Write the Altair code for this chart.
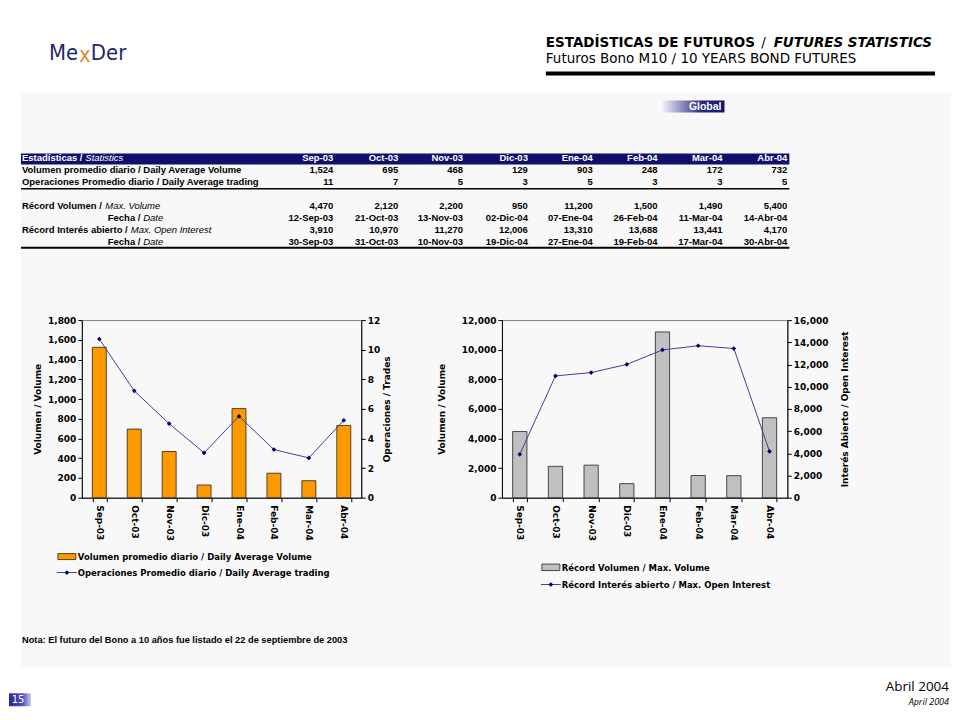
import altair as alt
import pandas as pd

# ---------------- data ----------------
months = ["Sep-03", "Oct-03", "Nov-03", "Dic-03", "Ene-04", "Feb-04", "Mar-04", "Abr-04"]
avg_volume = [1524, 695, 468, 129, 903, 248, 172, 732]
avg_trades = [10.72, 7.22, 5.00, 3.03, 5.50, 3.25, 2.69, 5.23]          # as drawn in chart
avg_trades_table = [11, 7, 5, 3, 5, 3, 3, 5]                           # as printed in table
max_volume = [4470, 2120, 2200, 950, 11200, 1500, 1490, 5400]
max_volume_date = ["12-Sep-03", "21-Oct-03", "13-Nov-03", "02-Dic-04",
                   "07-Ene-04", "26-Feb-04", "11-Mar-04", "14-Abr-04"]
max_oi = [3910, 10970, 11270, 12006, 13310, 13688, 13441, 4170]
max_oi_date = ["30-Sep-03", "31-Oct-03", "10-Nov-03", "19-Dic-04",
               "27-Ene-04", "19-Feb-04", "17-Mar-04", "30-Abr-04"]

vol_ticks = [0, 200, 400, 600, 800, 1000, 1200, 1400, 1600, 1800]
trade_ticks = [0, 2, 4, 6, 8, 10, 12]
maxvol_ticks = [0, 2000, 4000, 6000, 8000, 10000, 12000]
maxoi_ticks = [0, 2000, 4000, 6000, 8000, 10000, 12000, 14000, 16000]

# ---------------- helpers (page px -> chart px) ----------------
OX, OY = 81, 8
def cx(px):
    return px - OX
def cy(py):
    return py - OY

ONE = alt.Data(values=[{"a": 0}])
NAVY = "#10106a"
FONT_V = "DejaVu Sans"
FONT_A = "Liberation Sans"
FONT_C = "DejaVu Sans Condensed, DejaVu Sans"

def T(text, x, y, size, font=FONT_V, weight="normal", style="normal",
      color="black", align="left", baseline="middle"):
    return alt.Chart(ONE).mark_text(
        text=text, font=font, fontSize=size, fontWeight=weight, fontStyle=style,
        color=color, align=align, baseline=baseline
    ).encode(x=alt.value(cx(x)), y=alt.value(cy(y)))

def R(x1, x2, y1, y2, fill, stroke="transparent", sw=0.0):
    return alt.Chart(ONE).mark_rect(fill=fill, stroke=stroke, strokeWidth=sw).encode(
        x=alt.value(cx(x1)), x2=alt.value(cx(x2)), y=alt.value(cy(y1)), y2=alt.value(cy(y2)))

def L(x1, x2, y, color="black", sw=1.0):
    return alt.Chart(ONE).mark_rule(color=color, strokeWidth=sw).encode(
        x=alt.value(cx(x1)), x2=alt.value(cx(x2)), y=alt.value(cy(y)))

def Dm(x, y, color="#000070"):
    return alt.Chart(ONE).mark_point(shape="diamond", filled=True, size=22, color=color, opacity=1).encode(
        x=alt.value(cx(x)), y=alt.value(cy(y)))

ROW_SCALE = alt.Scale(domain=[0, 7], range=[cy(157), cy(241)], zero=False, nice=False)

def RL(text, x, row, weight="bold", style="normal", color="black"):
    return alt.Chart(alt.Data(values=[{"row": row}])).mark_text(
        text=text, font=FONT_A, fontSize=9.5, fontWeight=weight, fontStyle=style,
        color=color, align="left", baseline="middle"
    ).encode(x=alt.value(cx(x)), y=alt.Y("row:Q", scale=ROW_SCALE, axis=None))

X_T = alt.X("month:N", scale=alt.Scale(type="point", domain=months,
                                        range=[cx(333), cx(788)], padding=0), axis=None)

# ---------------- canvas (slide decoration + table + legends) ----------------
layers = []
layers.append(R(8, 952, 8, 706, "white"))
layers.append(R(20, 952, 90, 668, "#f8f8f8"))

# logo
layers.append(T("Me", 48, 58, 22, font=FONT_C, color="#1c2a6b", baseline="alphabetic"))
layers.append(T("x", 84, 60, 22, font=FONT_C, color="#e08a2c", align="center", baseline="alphabetic"))
layers.append(T("Der", 90, 58, 22, font=FONT_C, color="#1c2a6b", baseline="alphabetic"))

# title block
layers.append(T("ESTADÍSTICAS DE FUTUROS", 546, 45, 13.5, weight="bold", baseline="alphabetic"))
layers.append(T("/", 764, 45, 13.5, align="center", baseline="alphabetic"))
layers.append(T("FUTURES STATISTICS", 933, 45, 13.5, weight="bold", style="italic",
                align="right", baseline="alphabetic"))
layers.append(T("Futuros Bono M10 / 10 YEARS BOND FUTURES", 546, 61, 13.5, baseline="alphabetic"))
layers.append(L(546, 936, 72, "black", 4))

# Global badge
layers.append(alt.Chart(ONE).mark_rect(
    fill=alt.Gradient(gradient="linear", x1=0, x2=1, y1=0, y2=0,
                      stops=[alt.GradientStop(color="#ffffff", offset=0),
                             alt.GradientStop(color="#2a2a86", offset=0.65),
                             alt.GradientStop(color="#14146e", offset=1)])
).encode(x=alt.value(cx(660)), x2=alt.value(cx(725)), y=alt.value(cy(99)), y2=alt.value(cy(111))))
layers.append(T("Global", 722, 105.5, 10.5, font=FONT_A, weight="bold", color="white", align="right"))

# table
layers.append(R(20, 790, 152, 163, NAVY))
layers.append(RL("Estadísticas / ", 21, 0, color="white"))
layers.append(RL("Statistics", 84.5, 0, weight="normal", style="italic", color="white"))
layers.append(RL("Volumen promedio diario / Daily Average Volume", 21, 1))
layers.append(RL("Operaciones Promedio diario / Daily Average trading", 21, 2))
layers.append(RL("Récord Volumen / ", 21, 4))
layers.append(RL("Max. Volume", 104.5, 4, weight="normal", style="italic"))
layers.append(RL("Fecha / ", 107, 5))
layers.append(RL("Date", 142.5, 5, weight="normal", style="italic"))
layers.append(RL("Récord Interés abierto / ", 21, 6))
layers.append(RL("Max. Open Interest", 130, 6, weight="normal", style="italic"))
layers.append(RL("Fecha / ", 107, 7))
layers.append(RL("Date", 142.5, 7, weight="normal", style="italic"))

header_cells = [{"month": m, "row": 0} for m in months]
layers.append(alt.Chart(alt.Data(values=header_cells)).mark_text(
    font=FONT_A, fontSize=9.5, fontWeight="bold", color="white", align="right", baseline="middle"
).encode(x=X_T, y=alt.Y("row:Q", scale=ROW_SCALE, axis=None), text="month:N"))

body_rows = [
    (1, [f"{v:,}" for v in avg_volume]),
    (2, [str(v) for v in avg_trades_table]),
    (4, [f"{v:,}" for v in max_volume]),
    (5, max_volume_date),
    (6, [f"{v:,}" for v in max_oi]),
    (7, max_oi_date),
]
cells = []
for r, vals in body_rows:
    for m, v in zip(months, vals):
        cells.append({"month": m, "row": r, "t": v})
layers.append(alt.Chart(alt.Data(values=cells)).mark_text(
    font=FONT_A, fontSize=9.5, fontWeight="bold", color="black", align="right", baseline="middle"
).encode(x=X_T, y=alt.Y("row:Q", scale=ROW_SCALE, axis=None), text="t:N"))

layers.append(L(20, 790, 187.5, "black", 1.5))
layers.append(L(20, 790, 246.5, "black", 2))

# legends
layers.append(R(57, 75, 553, 559, "#FF9900", "#222222", 0.8))
layers.append(T("Volumen promedio diario / Daily Average Volume", 77, 556, 8.5, weight="bold"))
layers.append(L(56, 76, 572, "#3f3f9f", 1))
layers.append(Dm(66, 572))
layers.append(T("Operaciones Promedio diario / Daily Average trading", 77, 572, 8.5, weight="bold"))

layers.append(R(542, 560, 563.5, 570, "#C0C0C0", "#222222", 0.8))
layers.append(T("Récord Volumen / Max. Volume", 562, 567, 8.5, weight="bold"))
layers.append(L(541, 561, 584, "#3f3f9f", 1))
layers.append(Dm(551, 584))
layers.append(T("Récord Interés abierto / Max. Open Interest", 562, 584, 8.5, weight="bold"))

# note and footer
layers.append(T("Nota: El futuro del Bono a 10 años fue listado el 22 de septiembre de 2003",
                21, 640, 9.3, font=FONT_A, weight="bold"))
layers.append(T("Abril 2004", 950, 687, 13.5, font="Open Sans", align="right"))
layers.append(T("April 2004", 950, 701.5, 9, font="Open Sans", style="italic", align="right"))
layers.append(alt.Chart(ONE).mark_rect(
    fill=alt.Gradient(gradient="linear", x1=0, x2=1, y1=0, y2=0,
                      stops=[alt.GradientStop(color="#2a2a9e", offset=0),
                             alt.GradientStop(color="#4a4ab8", offset=0.6),
                             alt.GradientStop(color="#c8c8ec", offset=1)])
).encode(x=alt.value(cx(8)), x2=alt.value(cx(30)), y=alt.value(cy(693)), y2=alt.value(cy(706))))
layers.append(T("15", 17, 699.5, 10, color="white", align="center"))

canvas = alt.layer(*layers).properties(
    width=280, height=311, view=alt.ViewBackground(stroke="transparent"))

spacer = alt.Chart(ONE).mark_point(opacity=0, size=4).encode(
    x=alt.value(20), y=alt.value(20)
).properties(width=286, height=40, view=alt.ViewBackground(stroke="transparent"))

# ---------------- charts ----------------
X_AXIS = alt.Axis(labelAngle=90, labelAlign="left", labelBaseline="middle",
                  tickBand="extent", labelPadding=3)

df_left = pd.DataFrame({"month": months, "vol": avg_volume, "trades": avg_trades})
x_left = alt.X("month:N", sort=months, title=None,
               scale=alt.Scale(paddingInner=0.6, paddingOuter=0.3), axis=X_AXIS)
bars_l = alt.Chart(df_left).mark_bar(color="#FF9900", stroke="#222222", strokeWidth=0.8).encode(
    x=x_left,
    y=alt.Y("vol:Q", title="Volumen / Volume",
            scale=alt.Scale(domain=[0, 1800], nice=False),
            axis=alt.Axis(orient="left", values=vol_ticks, format=",d", titlePadding=5)))
line_l = alt.Chart(df_left).mark_line(
    color="#3f3f9f", strokeWidth=1,
    point=alt.OverlayMarkDef(shape="diamond", filled=True, size=22, color="#000070", opacity=1)
).encode(
    x=x_left,
    y=alt.Y("trades:Q", title="Operaciones / Trades",
            scale=alt.Scale(domain=[0, 12], nice=False),
            axis=alt.Axis(orient="right", values=trade_ticks, titleAngle=270,
                          titleBaseline="top", titlePadding=3)))
left = alt.layer(bars_l, line_l).resolve_scale(y="independent").properties(width=280, height=178)

df_right = pd.DataFrame({"month": months, "maxvol": max_volume, "maxoi": max_oi})
x_right = alt.X("month:N", sort=months, title=None,
                scale=alt.Scale(paddingInner=0.6, paddingOuter=0.3), axis=X_AXIS)
bars_r = alt.Chart(df_right).mark_bar(color="#C0C0C0", stroke="#222222", strokeWidth=0.8).encode(
    x=x_right,
    y=alt.Y("maxvol:Q", title="Volumen / Volume",
            scale=alt.Scale(domain=[0, 12000], nice=False),
            axis=alt.Axis(orient="left", values=maxvol_ticks, format=",d", titlePadding=15)))
line_r = alt.Chart(df_right).mark_line(
    color="#3f3f9f", strokeWidth=1,
    point=alt.OverlayMarkDef(shape="diamond", filled=True, size=22, color="#000070", opacity=1)
).encode(
    x=x_right,
    y=alt.Y("maxoi:Q", title="Interés Abierto / Open Interest",
            scale=alt.Scale(domain=[0, 16000], nice=False),
            axis=alt.Axis(orient="right", values=maxoi_ticks, format=",d", titleAngle=270,
                          titleBaseline="top", titlePadding=13)))
right = alt.layer(bars_r, line_r).resolve_scale(y="independent").properties(width=286, height=178)

chart = alt.concat(
    canvas, spacer, left, right,
    columns=2, spacing={"row": 0, "column": 141}, bounds="flush",
    padding=0, background="white"
).configure_view(
    stroke="#808080", strokeWidth=1
).configure_axis(
    labelFont=FONT_V, labelFontWeight="bold", labelFontSize=9, labelColor="black",
    titleFont=FONT_V, titleFontWeight="bold", titleFontSize=9, titleColor="black",
    domainColor="black", domainWidth=1, tickColor="black", tickSize=4, tickWidth=1,
    grid=False, labelOverlap=False
)

chart.save("out.html", embed_options={"renderer": "svg", "actions": False})
